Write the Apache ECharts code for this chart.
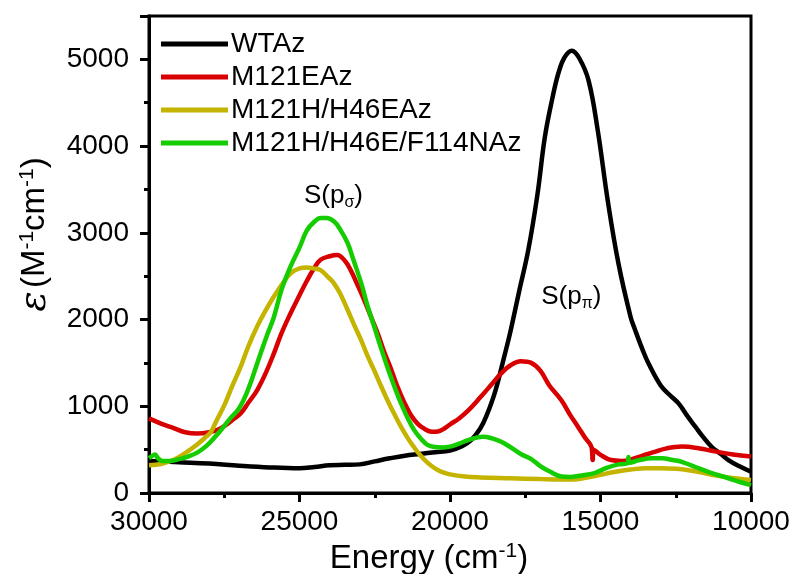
<!DOCTYPE html>
<html>
<head>
<meta charset="utf-8">
<script src="https://cdn.jsdelivr.net/npm/echarts@6.0.0/dist/echarts.min.js"></script>
<style>
  html, body { margin: 0; padding: 0; background: #fff; }
  #chart { width: 795px; height: 574px; }
</style>
</head>
<body>
<div id="chart"></div>
<script>
// absorption spectra, energy (cm-1) vs epsilon (M-1 cm-1)
const seriesNames = ['WTAz', 'M121EAz', 'M121H/H46EAz', 'M121H/H46E/F114NAz']
const seriesColors = ['#000000', '#d80000', '#c4b400', '#14cc00']

const wtAz = [
  [30000, 370], [29000, 355], [28000, 340], [27000, 315], [26000, 295], [25000, 285],
  [24500, 300], [24000, 320], [23500, 325], [23000, 330], [22500, 365], [22000, 400],
  [21500, 430], [21000, 450], [20500, 470], [20000, 490], [19600, 540], [19300, 610],
  [19000, 740], [18800, 880], [18500, 1170], [18200, 1570], [18000, 1850], [17700, 2330],
  [17400, 2800], [17100, 3430], [16850, 4100], [16600, 4550], [16400, 4840], [16200, 5020],
  [15950, 5100], [15700, 5010], [15400, 4760], [15100, 4200], [14750, 3350], [14400, 2640],
  [14000, 2030], [13850, 1880], [13600, 1650], [13400, 1490], [13000, 1240], [12700, 1130],
  [12400, 1030], [12100, 880], [11850, 765], [11600, 650], [11300, 530], [11000, 450],
  [10750, 380], [10400, 310], [10000, 245]
]

const m121e = [
  [30000, 860], [29600, 800], [29200, 750], [28800, 700], [28400, 685], [28000, 700],
  [27700, 730], [27500, 770], [27200, 850], [26950, 920], [26700, 1040], [26400, 1190],
  [26100, 1400], [25850, 1610], [25600, 1840], [25300, 2070], [25000, 2280], [24750, 2450],
  [24500, 2600], [24300, 2690], [24000, 2730], [23750, 2745], [23500, 2680], [23300, 2570],
  [23100, 2420], [22850, 2225], [22600, 2010], [22400, 1840], [22200, 1640], [21950, 1420],
  [21750, 1230], [21500, 1030], [21300, 900], [21080, 800], [20850, 740], [20600, 705],
  [20400, 710], [20200, 740], [20000, 790], [19700, 860], [19400, 950], [19000, 1100],
  [18600, 1260], [18300, 1380], [18000, 1470], [17650, 1520], [17300, 1500], [17000, 1410],
  [16700, 1240], [16300, 1070], [16000, 895], [15750, 765], [15500, 630], [15300, 530],
  [15260, 380], [15220, 500], [15000, 440], [14650, 380], [14300, 370], [14000, 385],
  [13600, 430], [13200, 475], [12800, 515], [12300, 535], [11800, 520], [11200, 480],
  [10600, 445], [10000, 420]
]

const m121hH46e = [
  [30000, 320], [29600, 335], [29200, 380], [28800, 460], [28400, 560], [28100, 650],
  [27950, 700], [27750, 840], [27500, 1010], [27250, 1220], [26950, 1460], [26700, 1690],
  [26400, 1925], [26100, 2120], [25850, 2265], [25550, 2420], [25300, 2530], [25000, 2590],
  [24750, 2600], [24550, 2590], [24300, 2570], [24050, 2490], [23850, 2415], [23650, 2300],
  [23400, 2110], [23200, 1950], [22950, 1760], [22750, 1590], [22500, 1400], [22300, 1240],
  [22050, 1050], [21850, 910], [21630, 765], [21400, 630], [21200, 530], [21000, 440],
  [20750, 350], [20500, 285], [20250, 240], [20000, 215], [19500, 190], [19000, 180],
  [18000, 170], [17000, 160], [16300, 155], [15900, 155], [15500, 175], [15000, 210],
  [14500, 245], [14000, 270], [13500, 285], [13000, 285], [12500, 280], [11850, 250],
  [11300, 210], [10700, 175], [10000, 150]
]

const m121hH46eF114n = [
  [30000, 400], [29880, 430], [29800, 445], [29700, 400], [29550, 370], [29300, 370],
  [29000, 390], [28700, 420], [28400, 465], [28100, 540], [27850, 630], [27600, 730],
  [27300, 860], [27000, 980], [26700, 1200], [26400, 1500], [26100, 1800], [25850, 2030],
  [25600, 2340], [25300, 2610], [25000, 2830], [24750, 3030], [24500, 3130], [24300, 3170],
  [24100, 3170], [23850, 3130], [23650, 3040], [23400, 2880], [23200, 2680], [22950, 2420],
  [22750, 2170], [22500, 1900], [22300, 1680], [22050, 1420], [21850, 1230], [21630, 1035],
  [21400, 860], [21190, 725], [20950, 620], [20750, 555], [20500, 530], [20250, 525],
  [20000, 535], [19700, 570], [19400, 610], [19100, 640], [18900, 650], [18600, 630],
  [18300, 590], [18000, 530], [17650, 450], [17300, 390], [17000, 310], [16700, 250],
  [16300, 190], [16000, 185], [15700, 200], [15200, 230], [14800, 290], [14400, 330],
  [14100, 345], [14070, 415], [14030, 350], [13700, 380], [13300, 400], [12950, 400],
  [12600, 380], [12300, 360], [11850, 300], [11400, 240], [10750, 170], [10400, 130],
  [10000, 90]
]

const allData = [wtAz, m121e, m121hH46e, m121hH46eF114n]

// band labels: sigma and pi sulfur -> Cu transitions
const bandLabels = [
  { sub: 'σ', at: [23870, 3430] },
  { sub: 'π', at: [15970, 2260] }
]

const chart = echarts.init(document.getElementById('chart'))
const fontFam = 'Arial, "Liberation Sans", sans-serif'

const series = seriesNames.map((name, i) => ({
  name: name,
  type: 'line',
  data: allData[i],
  showSymbol: false,
  smooth: 0.4,
  lineStyle: { width: 4.5, color: seriesColors[i] },
  itemStyle: { color: seriesColors[i] }
}))

// put the band labels on the last series as mark points
series[3].markPoint = {
  symbol: 'circle',
  symbolSize: 1,
  itemStyle: { color: 'rgba(0,0,0,0)' },
  silent: true,
  data: bandLabels.map(b => ({
    coord: b.at,
    label: {
      show: true,
      position: 'inside',
      formatter: '{m|S(p}{s|' + b.sub + '}{m|)}',
      rich: {
        m: { fontSize: 26, lineHeight: 30, color: '#000', fontFamily: fontFam },
        s: { fontSize: 16, lineHeight: 16, color: '#000', fontFamily: fontFam, verticalAlign: 'bottom' }
      }
    }
  }))
}

const option = {
  backgroundColor: '#fff',
  animation: false,
  grid: {
    left: 149,
    right: 44,
    top: 16,
    bottom: 81,
    show: true,
    borderColor: '#000',
    borderWidth: 3,
    backgroundColor: 'transparent',
    outerBoundsMode: 'none'
  },
  legend: {
    orient: 'vertical',
    left: 156,
    top: 25,
    icon: 'rect',
    itemWidth: 67,
    itemHeight: 5,
    itemGap: 5,
    data: seriesNames,
    textStyle: { fontSize: 28, lineHeight: 28, color: '#000', fontFamily: fontFam, padding: [0, 0, 0, -2] }
  },
  xAxis: {
    type: 'value',
    inverse: true,
    min: 10000,
    max: 30000,
    interval: 5000,
    name: '{n|Energy (cm}{p|-1}{n|)}',
    nameLocation: 'middle',
    nameGap: 42,
    nameTextStyle: {
      padding: [0, 42, 0, 0],
      rich: {
        n: { fontSize: 33, lineHeight: 36, color: '#000', fontFamily: fontFam },
        p: { fontSize: 21, lineHeight: 21, color: '#000', fontFamily: fontFam, verticalAlign: 'top' }
      }
    },
    axisLine: { show: true, lineStyle: { color: '#000', width: 3 } },
    axisTick: { show: true, length: 9, lineStyle: { color: '#000', width: 3 } },
    minorTick: { show: true, splitNumber: 2, length: 5, lineStyle: { color: '#000', width: 3 } },
    splitLine: { show: false },
    axisLabel: { fontSize: 28, color: '#000', fontFamily: fontFam, margin: 15, formatter: v => String(v) }
  },
  yAxis: {
    type: 'value',
    min: 0,
    max: 5500,
    interval: 1000,
    name: '{e|ε} {n|(M}{p|-1}{n|cm}{p|-1}{n|)}',
    nameLocation: 'middle',
    nameRotate: 90,
    nameGap: 96,
    nameTextStyle: {
      padding: [0, 0, 0, 40],
      rich: {
        e: { fontSize: 38, lineHeight: 36, color: '#000', fontFamily: '"DejaVu Serif", serif', fontStyle: 'italic' },
        n: { fontSize: 33, lineHeight: 36, color: '#000', fontFamily: fontFam },
        p: { fontSize: 21, lineHeight: 21, color: '#000', fontFamily: fontFam, verticalAlign: 'top' }
      }
    },
    axisLine: { show: true, lineStyle: { color: '#000', width: 3 } },
    axisTick: { show: true, length: 9, lineStyle: { color: '#000', width: 3 } },
    minorTick: { show: true, splitNumber: 2, length: 5, lineStyle: { color: '#000', width: 3 } },
    splitLine: { show: false },
    axisLabel: {
      fontSize: 28, color: '#000', fontFamily: fontFam, margin: 20,
      formatter: v => (v > 5000 ? '' : String(v))
    }
  },
  series: series
}

chart.setOption(option)
</script>
</body>
</html>
